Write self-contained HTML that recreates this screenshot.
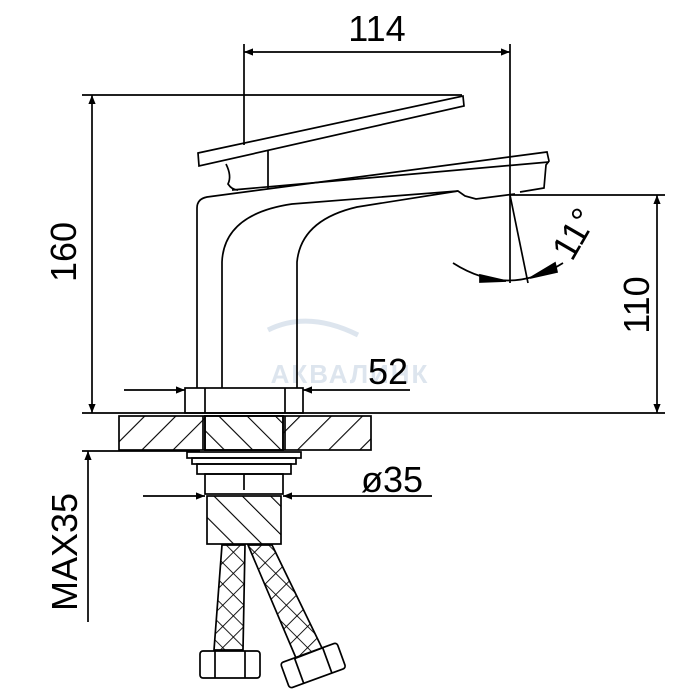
<!DOCTYPE html>
<html><head><style>html,body{margin:0;padding:0;background:#fff}svg{display:block}</style></head>
<body>
<svg width="700" height="700" viewBox="0 0 700 700" xmlns="http://www.w3.org/2000/svg" font-family="Liberation Sans, sans-serif">
<defs>
<marker id="b" viewBox="0 0 10 10" refX="10" refY="5" markerWidth="28" markerHeight="9" orient="auto-start-reverse" markerUnits="userSpaceOnUse"><path d="M0,1 L10,5 L0,9 z" fill="#000"/></marker>
<pattern id="h1" width="22" height="22" patternUnits="userSpaceOnUse" patternTransform="rotate(45)"><line x1="0" y1="0" x2="0" y2="22" stroke="#000" stroke-width="2.2"/></pattern>
<pattern id="h2" width="20" height="20" patternUnits="userSpaceOnUse" patternTransform="rotate(-45)"><line x1="0" y1="0" x2="0" y2="20" stroke="#000" stroke-width="2.2"/></pattern>
<pattern id="x" width="15" height="15" patternUnits="userSpaceOnUse" patternTransform="rotate(45)"><path d="M0,0 L0,15 M0,0 L15,0" stroke="#000" stroke-width="1.8"/></pattern>
</defs>
<g fill="none" stroke="#000" stroke-width="1.7">
<text x="350" y="383" font-size="26" fill="#dde5ee" stroke="none" text-anchor="middle" font-weight="bold" letter-spacing="2">АКВАЛИНК</text>
<path d="M268,330 q40,-20 90,5" stroke="#dde5ee" stroke-width="5"/>
<line x1="244" y1="44" x2="244" y2="145"/>
<line x1="510" y1="44" x2="510" y2="283"/>
<line x1="244" y1="52" x2="510" y2="52" marker-start="url(#b)" marker-end="url(#b)"/>
<text x="377" y="41" font-size="36" fill="#000" stroke="none" text-anchor="middle">114</text>
<line x1="82" y1="95" x2="462" y2="95"/>
<line x1="92" y1="95" x2="92" y2="413" marker-start="url(#b)" marker-end="url(#b)"/>
<text transform="translate(76,252) rotate(-90)" font-size="36" fill="#000" stroke="none" text-anchor="middle">160</text>
<path d="M198,153 L463,96 L464,106 L199,166 Z"/>
<line x1="268" y1="150" x2="268" y2="189"/>
<path d="M226,164 q6,12 2,20 q4,6 10,6"/>
<path d="M197,388 L197,208 q0,-9 10,-11 L547,152 L549,161 L546,165 L544,188 L520,192"/>
<path d="M232,190 L549,162"/>
<path d="M222,388 L222,262 q2,-48 70,-58 L458,191 L465,196 L476,199 L515,194"/>
<path d="M297,388 L297,262 q4,-42 60,-55 L458,191"/>
<line x1="510" y1="195" x2="528" y2="283"/>
<path d="M453,263 q55,35 110,0"/>
<path d="M480,275 L506,281 L480,282 Z" fill="#000"/>
<path d="M555,263 L530,278 L557,272 Z" fill="#000"/>
<text transform="translate(585,240) rotate(-60)" font-size="36" fill="#000" stroke="none" text-anchor="middle">11°</text>
<line x1="510" y1="195" x2="665" y2="195"/>
<line x1="657" y1="195" x2="657" y2="413" marker-start="url(#b)" marker-end="url(#b)"/>
<text transform="translate(649,305) rotate(-90)" font-size="36" fill="#000" stroke="none" text-anchor="middle">110</text>
<line x1="82" y1="413" x2="665" y2="413"/>
<line x1="82" y1="451" x2="200" y2="451"/>
<rect x="185" y="388" width="118" height="25"/>
<line x1="205" y1="388" x2="205" y2="413"/><line x1="285" y1="388" x2="285" y2="413"/>
<line x1="124" y1="390" x2="185" y2="390" marker-end="url(#b)"/>
<line x1="410" y1="390" x2="303" y2="390" marker-end="url(#b)"/>
<text x="388" y="384" font-size="36" fill="#000" stroke="none" text-anchor="middle">52</text>
<rect x="119" y="416" width="252" height="34" fill="url(#h1)"/>
<rect x="205" y="416" width="78" height="34" fill="#fff"/>
<rect x="205" y="416" width="78" height="34" fill="url(#h2)"/>
<line x1="203" y1="416" x2="203" y2="450"/><line x1="285" y1="416" x2="285" y2="450"/>
<rect x="187" y="452" width="114" height="6"/>
<rect x="192" y="458" width="104" height="6"/>
<rect x="197" y="464" width="94" height="10"/>
<rect x="205" y="474" width="78" height="20"/>
<line x1="244" y1="474" x2="244" y2="490"/>
<line x1="143" y1="496" x2="205" y2="496" marker-end="url(#b)"/>
<line x1="432" y1="496" x2="283" y2="496" marker-end="url(#b)"/>
<text x="392" y="492" font-size="36" fill="#000" stroke="none" text-anchor="middle">ø35</text>
<rect x="207" y="496" width="74" height="48" fill="url(#h2)"/>
<path d="M222,545 L245,545 L243,650 L214,650 Z" fill="url(#x)"/>
<path d="M248,545 L272,545 L322,648 L296,658 Z" fill="url(#x)"/>
<rect x="200" y="651" width="60" height="27" rx="3"/>
<line x1="215" y1="651" x2="215" y2="678"/><line x1="245" y1="651" x2="245" y2="678"/>
<g transform="rotate(-20 313 665)"><rect x="283" y="652" width="60" height="27" rx="3"/><line x1="298" y1="652" x2="298" y2="679"/><line x1="328" y1="652" x2="328" y2="679"/></g>
<line x1="88" y1="451" x2="88" y2="622" marker-start="url(#b)"/>
<text transform="translate(77,552) rotate(-90)" font-size="36" fill="#000" stroke="none" text-anchor="middle">MAX35</text>
</g>
</svg>
</body></html>
